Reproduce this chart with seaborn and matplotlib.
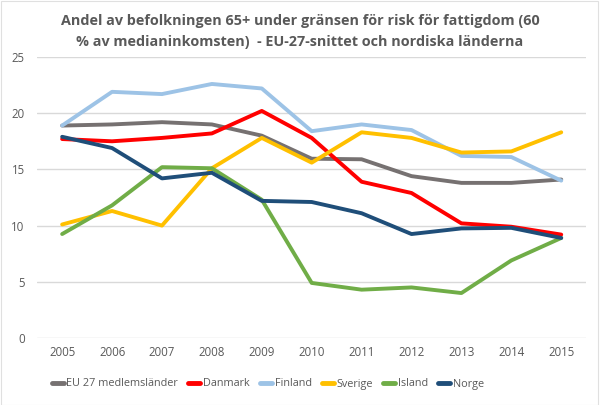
import matplotlib
matplotlib.use("Agg")
import matplotlib.pyplot as plt
import seaborn as sns
import pandas as pd
from matplotlib.patches import Rectangle

years = ["2005", "2006", "2007", "2008", "2009", "2010", "2011", "2012", "2013", "2014", "2015"]
eu27 = [18.9, 19.0, 19.2, 19.0, 18.0, 15.95, 15.9, 14.4, 13.8, 13.8, 14.1]
danmark = [17.7, 17.5, 17.8, 18.2, 20.2, 17.8, 13.9, 12.9, 10.2, 9.9, 9.2]
finland = [18.9, 21.9, 21.7, 22.6, 22.2, 18.4, 19.0, 18.5, 16.2, 16.1, 14.0]
sverige = [10.1, 11.3, 10.0, 15.1, 17.8, 15.6, 18.3, 17.8, 16.5, 16.6, 18.3]
island = [9.25, 11.8, 15.2, 15.1, 12.3, 4.9, 4.3, 4.5, 4.0, 6.9, 8.9]
norge = [17.9, 16.9, 14.2, 14.7, 12.2, 12.1, 11.1, 9.25, 9.75, 9.8, 8.9]

series_names = ["EU 27 medlemsländer", "Danmark", "Finland", "Sverige", "Island", "Norge"]
series_values = [eu27, danmark, finland, sverige, island, norge]
colors = ["#767171", "#FF0000", "#9DC3E6", "#FFC000", "#70AD47", "#1F4E79"]

title = "Andel av befolkningen 65+ under gränsen för risk för fattigdom (60\n% av medianinkomsten)  - EU-27-snittet och nordiska länderna"

rows = []
for name, vals in zip(series_names, series_values):
    for i, (y, v) in enumerate(zip(years, vals)):
        rows.append({"x": i, "year": y, "serie": name, "value": v})
df = pd.DataFrame(rows)

sns.set_theme(style="white")
plt.rcParams["font.family"] = ["Open Sans", "DejaVu Sans"]

fig = plt.figure(figsize=(6.0, 4.05), dpi=100)
ax = fig.add_axes([0.062, 0.1654, 0.915, 0.6939])

sns.lineplot(data=df, x="x", y="value", hue="serie", hue_order=series_names,
             palette=colors, linewidth=2.8, ax=ax, legend=True, sort=False)

ax.set_xlim(-0.5, len(years) - 0.5)
ax.set_ylim(0, 25)
ax.set_yticks([0, 5, 10, 15, 20, 25])
ax.set_xticks(range(len(years)))
ax.set_xticklabels(years)
ax.set_xlabel("")
ax.set_ylabel("")
ax.grid(axis="y", color="#D9D9D9", linewidth=1.0)
ax.set_axisbelow(True)
for s in ax.spines.values():
    s.set_visible(False)
ax.tick_params(axis="both", length=0, labelsize=8.3, labelcolor="#595959")
ax.tick_params(axis="y", pad=9)
ax.tick_params(axis="x", pad=6)

fig.text(0.5, 0.965, title, ha="center", va="top", fontsize=10.4, fontweight="bold",
         color="#595959", linespacing=1.6)

handles, labels = ax.get_legend_handles_labels()
for h in handles:
    h.set_linewidth(3.5)
ax.legend(handles, labels, loc="center", bbox_to_anchor=(268 / 600, 1 - 384 / 405),
          bbox_transform=fig.transFigure, ncol=6, frameon=False, fontsize=7.8,
          handlelength=1.1, handletextpad=0.25, columnspacing=0.95, labelcolor="#595959")

fig.patches.append(Rectangle((0.001, 0.001), 0.996, 0.997, transform=fig.transFigure,
                             fill=False, edgecolor="#E0E0E0", linewidth=0.8))

fig.savefig("out.png", dpi=100)
